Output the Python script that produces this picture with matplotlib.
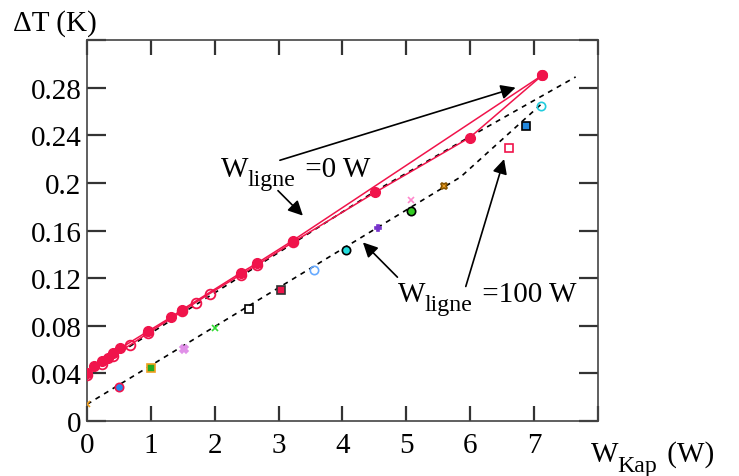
import matplotlib
matplotlib.use("Agg")
import matplotlib.pyplot as plt
import numpy as np
from matplotlib.transforms import offset_copy

plt.rcParams["font.family"] = ["Liberation Serif", "DejaVu Serif"]

# W_ligne = 0 W : montee puis descente
up_x = [0.0, 0.11, 0.23, 0.33, 0.41, 0.52, 0.96, 1.31, 1.49, 2.41, 2.66, 3.22, 7.13]
up_y = [0.0405, 0.046, 0.050, 0.053, 0.057, 0.061, 0.0755, 0.087, 0.0935, 0.1245, 0.1325, 0.1515, 0.2905]
down_x = [7.13, 5.99, 4.51, 3.22, 2.66, 2.41, 1.92, 1.70, 1.49, 0.96, 0.68, 0.41, 0.23, 0.0]
down_y = [0.2905, 0.238, 0.192, 0.150, 0.131, 0.123, 0.107, 0.0995, 0.092, 0.074, 0.064, 0.055, 0.048, 0.039]

# W_ligne = 100 W
pts_x = [0.0, 0.50, 1.00, 1.52, 2.01, 2.54, 3.04, 3.55, 4.05, 4.55, 5.07, 5.07, 5.59, 6.61, 6.87, 7.11]
pts_y = [0.014, 0.0283, 0.0443, 0.0605, 0.0779, 0.0941, 0.110, 0.127, 0.144, 0.162, 0.1767, 0.186, 0.197, 0.229, 0.2476, 0.265]

# droites d'ajustement (pointilles)
fit0_x = [0.0, 3.22, 4.51, 6.0, 7.65]
fit0_y = [0.040, 0.149, 0.193, 0.239, 0.289]
fit100_x = [0.0, 5.85, 7.15]
fit100_y = [0.014, 0.205, 0.268]

xticks = [0, 1, 2, 3, 4, 5, 6, 7, 8]
yticks = [0, 0.04, 0.08, 0.12, 0.16, 0.2, 0.24, 0.28, 0.32]
ytick_labels = ["0", "0.04", "0.08", "0.12", "0.16", "0.2", "0.24", "0.28", ""]
xtick_labels = ["0", "1", "2", "3", "4", "5", "6", "7", ""]

RED = "#f0144b"

# (marker, facecolor, edgecolor, size)
point_styles = [
    ("x", "none", "#f0a020", 5),
    ("o", "#2288ee", RED, 6),
    ("s", "#22aa22", "#f0a020", 6),
    ("X", "#e090e8", "#e090e8", 6),
    ("x", "none", "#33dd33", 5),
    ("s", "none", "black", 6),
    ("s", RED, "#333333", 6),
    ("o", "none", "#66aaff", 6),
    ("o", "#22dddd", "black", 6),
    ("P", "#7733cc", "#7733cc", 5),
    ("o", "#33cc22", "black", 6),
    ("x", "none", "#ff88cc", 5),
    ("X", "#f0a020", "#885500", 5),
    ("s", "none", RED, 6),
    ("s", "#2288dd", "black", 6),
    ("o", "none", "#22ccdd", 6),
]

FS = 21


def sub_label(ax, x, y, main, sub, rest, fig):
    # W + indice + reste, comme dans l'original
    renderer = fig.canvas.get_renderer()
    t1 = ax.text(x, y, main, fontsize=FS, va="baseline", ha="left", clip_on=False)
    w1 = t1.get_window_extent(renderer).width * 72 / fig.dpi
    tr2 = offset_copy(ax.transData, fig=fig, x=w1 - 1, y=-7, units="points")
    t2 = ax.text(x, y, sub, fontsize=FS * 0.82, va="baseline", ha="left", transform=tr2, clip_on=False)
    w2 = t2.get_window_extent(renderer).width * 72 / fig.dpi
    tr3 = offset_copy(ax.transData, fig=fig, x=w1 + w2 + 1, y=0, units="points")
    ax.text(x, y, rest, fontsize=FS, va="baseline", ha="left", transform=tr3, clip_on=False)


fig = plt.figure(figsize=(7.39, 4.77), dpi=100)
ax = fig.add_axes([0.1177, 0.1153, 0.6915, 0.7987])

ax.plot(fit0_x, fit0_y, color="black", lw=1.2, ls=(0, (3, 3)), zorder=2)
ax.plot(fit100_x, fit100_y, color="black", lw=1.2, ls=(0, (3, 3)), zorder=2)

ax.plot(up_x, up_y, color=RED, lw=1.1, marker="o", ms=7, mfc=RED, mec=RED, zorder=3)
ax.plot(down_x, down_y, color=RED, lw=1.1, zorder=3)
dx = np.array(down_x)
dy = np.array(down_y)
filled = dx > 4
ax.plot(dx[filled], dy[filled], ls="none", marker="o", ms=7, mfc=RED, mec=RED, zorder=4)
ax.plot(dx[~filled], dy[~filled], ls="none", marker="o", ms=7, mfc="none", mec=RED, mew=1.3, zorder=4)

for x, y, (m, fc, ec, s) in zip(pts_x, pts_y, point_styles):
    ax.plot([x], [y], ls="none", marker=m, ms=s, mfc=fc, mec=ec, mew=1.2, zorder=4)

ax.set_xlim(0, 8)
ax.set_ylim(0, 0.32)
ax.set_xticks(xticks)
ax.set_xticklabels(xtick_labels)
ax.set_yticks(yticks)
ax.set_yticklabels(ytick_labels)
ax.tick_params(axis="y", direction="in", length=14, width=1.6, right=True, labelsize=FS, pad=4, color="#333333")
ax.tick_params(axis="x", direction="in", length=11, width=1.6, top=True, labelsize=FS, pad=8, color="#333333")
for sp in ax.spines.values():
    sp.set_linewidth(1.2)
    sp.set_color("#444444")

arrow = dict(arrowstyle="-|>", mutation_scale=22, lw=1.2, color="black", shrinkA=0, shrinkB=0)
ax.annotate("", xy=(6.71, 0.280), xytext=(3.02, 0.219), arrowprops=arrow)
ax.annotate("", xy=(3.38, 0.1725), xytext=(2.99, 0.1935), arrowprops=arrow)
ax.annotate("", xy=(4.32, 0.150), xytext=(4.86, 0.1208), arrowprops=arrow)
ax.annotate("", xy=(6.53, 0.220), xytext=(5.93, 0.113), arrowprops=arrow)

sub_label(ax, 2.1, 0.206, "W", "ligne", " =0 W", fig)
sub_label(ax, 4.87, 0.101, "W", "ligne", " =100 W", fig)

ax.text(-1.16, 0.329, "ΔT (K)", fontsize=FS, va="baseline", ha="left", clip_on=False)
sub_label(ax, 7.89, -0.0336, "W", "Kap", " (W)", fig)

fig.savefig("out.png", dpi=100)
